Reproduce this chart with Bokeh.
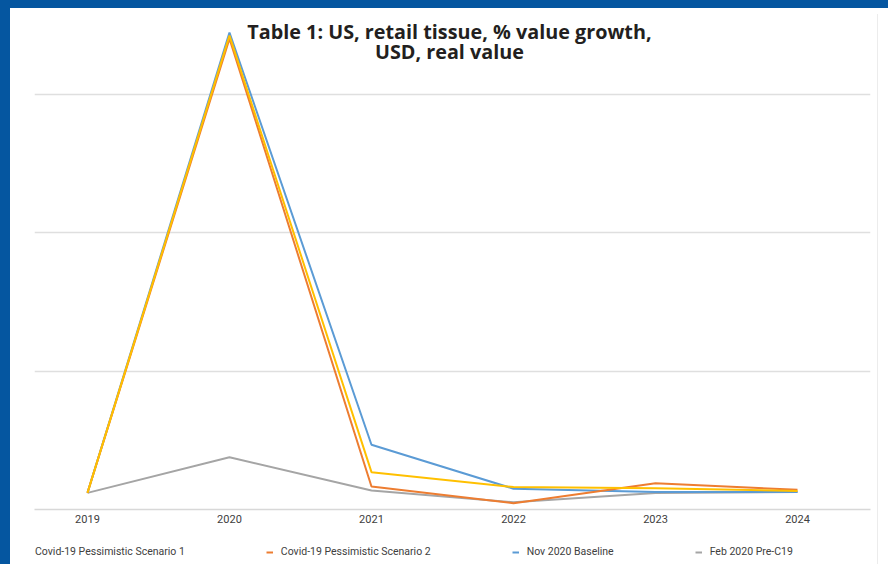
from bokeh.plotting import figure
from bokeh.layouts import column
from bokeh.models import Range1d, FixedTicker, Label, Legend, LegendItem
from bokeh.embed import file_html
from bokeh.resources import INLINE

# ---- data (y in arbitrary growth units, no y labels shown) ----
years = ["2019", "2020", "2021", "2022", "2023", "2024"]
scenario1 = [0.60, 17.13, 1.35, 0.81, 0.77, 0.67]   # Covid-19 Pessimistic Scenario 1
scenario2 = [0.60, 17.02, 0.83, 0.23, 0.95, 0.71]   # Covid-19 Pessimistic Scenario 2
baseline = [0.60, 17.24, 2.34, 0.75, 0.63, 0.63]    # Nov 2020 Baseline
pre_c19 = [0.60, 1.89, 0.69, 0.26, 0.60, 0.63]      # Feb 2020 Pre-C19
series_names = ["Covid-19 Pessimistic Scenario 1", "Covid-19 Pessimistic Scenario 2",
                "Nov 2020 Baseline", "Feb 2020 Pre-C19"]
grid_values = [5, 10, 15]
title_lines = ["Table 1: US, retail tissue, % value growth,", "USD, real value"]

colors = {"s1": "#FFC000", "s2": "#ED7D31", "base": "#5B9BD5", "pre": "#A5A5A5"}
x = list(range(len(years)))
frame_blue = "#0556A0"

p = figure(width=888, height=540, output_backend="svg", toolbar_location=None,
           x_range=Range1d(-0.373, 5.514), y_range=Range1d(0, 17.82),
           min_border_left=34, min_border_right=18, min_border_top=16, min_border_bottom=31)
p.outline_line_color = None
p.background_fill_color = "white"
p.border_fill_alpha = 0
p.styles = {"background": (f"linear-gradient({frame_blue},{frame_blue}) 0 0 / 100% 8px no-repeat, "
                           f"linear-gradient({frame_blue},{frame_blue}) 0 0 / 10px 100% no-repeat, "
                           "linear-gradient(#ececec,#ececec) 877px 14px / 1px 100% no-repeat, #ffffff")}

# axes / grid
p.yaxis.visible = False
p.xgrid.visible = False
p.ygrid.ticker = FixedTicker(ticks=grid_values)
p.ygrid.grid_line_color = "#dfdfdf"
p.ygrid.grid_line_width = 1.5

p.xaxis.ticker = FixedTicker(ticks=x)
p.xaxis.major_label_overrides = {i: y for i, y in enumerate(years)}
p.xaxis.axis_line_color = "#d8d8d8"
p.xaxis.axis_line_width = 1.5
p.xaxis.major_tick_in = 0
p.xaxis.major_tick_out = 0
p.xaxis.minor_tick_in = 0
p.xaxis.minor_tick_out = 0
p.xaxis.major_label_standoff = 5
p.xaxis.major_label_text_font = "Roboto"
p.xaxis.major_label_text_font_size = "11px"
p.xaxis.major_label_text_color = "#404040"

# lines
p.line(x, pre_c19, line_color=colors["pre"], line_width=2)
p.line(x, baseline, line_color=colors["base"], line_width=2)
p.line(x, scenario2, line_color=colors["s2"], line_width=2)
p.line(x, scenario1, line_color=colors["s1"], line_width=2)

# title inside the plot
for txt, ty in zip(title_lines, [17.27, 16.55]):
    p.add_layout(Label(x=2.549, y=ty, text=txt, text_align="center", text_baseline="middle",
                       text_font="Open Sans", text_font_style="bold", text_font_size="19.8px",
                       text_color="#231F20"))

# ---- legend strip underneath ----
lf = figure(width=888, height=24, output_backend="svg", toolbar_location=None,
            x_range=Range1d(0, 1), y_range=Range1d(0, 1), x_axis_type=None, y_axis_type=None,
            min_border_left=34, min_border_right=18, min_border_top=0, min_border_bottom=0)
lf.outline_line_color = None
lf.background_fill_alpha = 0
lf.border_fill_alpha = 0
lf.styles = {"background": (f"linear-gradient({frame_blue},{frame_blue}) 0 0 / 10px 100% no-repeat, "
                            "linear-gradient(#ececec,#ececec) 877px 0 / 1px 100% no-repeat, #ffffff")}
# single-point keys: nothing is drawn in the strip, they only feed the legend swatches
k1 = lf.line(x[:1], scenario1[:1], line_color=colors["s1"], line_width=2, line_alpha=0)  # swatch not visible in original
k2 = lf.line(x[:1], scenario2[:1], line_color=colors["s2"], line_width=2)
k3 = lf.line(x[:1], baseline[:1], line_color=colors["base"], line_width=2)
k4 = lf.line(x[:1], pre_c19[:1], line_color=colors["pre"], line_width=2)
legend = Legend(items=[LegendItem(label=series_names[0], renderers=[k1]),
                       LegendItem(label=series_names[1], renderers=[k2]),
                       LegendItem(label=series_names[2], renderers=[k3]),
                       LegendItem(label=series_names[3], renderers=[k4])],
                location=(-14, 6), orientation="horizontal", spacing=81,
                margin=0, padding=0,
                glyph_width=7, glyph_height=12, label_height=12, label_standoff=8,
                label_text_font="Roboto", label_text_font_size="10.5px",
                label_text_color="#404040",
                border_line_alpha=0, background_fill_alpha=0)
lf.add_layout(legend, "center")

layout = column(p, lf, spacing=0)
open("out.html", "w").write(file_html(layout, INLINE))
